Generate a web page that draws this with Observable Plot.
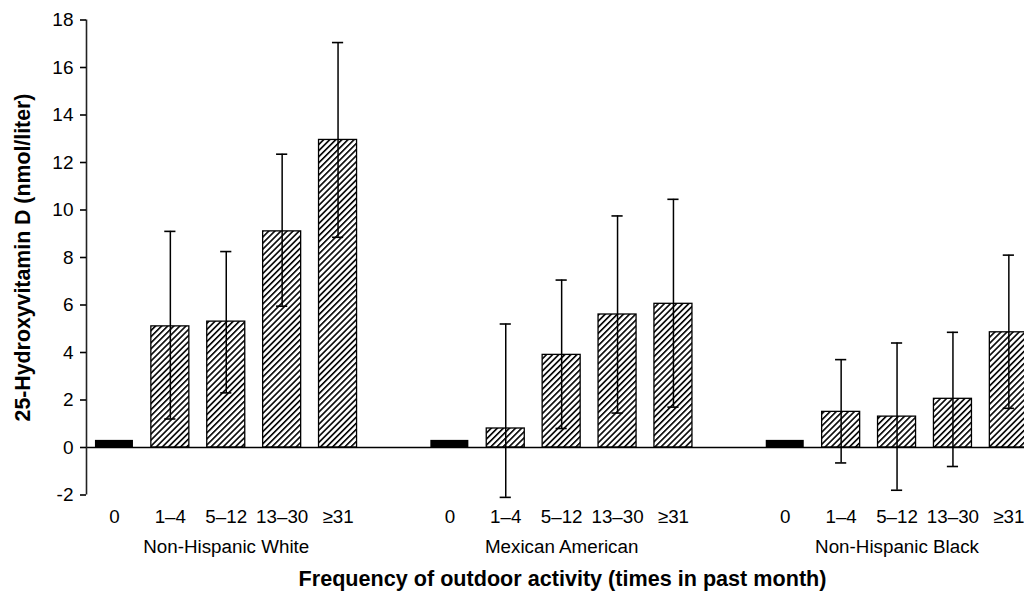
<!DOCTYPE html>
<html>
<head>
<meta charset="utf-8">
<script src="https://cdn.jsdelivr.net/npm/d3@7"></script>
<script src="https://cdn.jsdelivr.net/npm/@observablehq/plot@0.6"></script>
<style>
  html, body { margin: 0; padding: 0; background: #fff; overflow: hidden; }
</style>
</head>
<body>
<div id="chart"></div>
<script>
// ---- data ----
const groups = ["Non-Hispanic White", "Mexican American", "Non-Hispanic Black"];
const categories = ["0", "1–4", "5–12", "13–30", "≥31"];
const means = [
  [0.3, 5.1, 5.3, 9.1, 12.95],
  [0.3, 0.8, 3.9, 5.6, 6.05],
  [0.3, 1.5, 1.3, 2.05, 4.85]
];
const upper = [
  [null, 9.1, 8.25, 12.35, 17.05],
  [null, 5.2, 7.05, 9.75, 10.45],
  [null, 3.7, 4.4, 4.85, 8.1]
];
const lower = [
  [null, 1.2, 2.3, 5.95, 8.85],
  [null, -2.1, 0.8, 1.45, 1.7],
  [null, -0.65, -1.8, -0.8, 1.65]
];
const yTicks = [-2, 0, 2, 4, 6, 8, 10, 12, 14, 16, 18];
const yLabel = "25-Hydroxyvitamin D (nmol/liter)";
const xLabel = "Frequency of outdoor activity (times in past month)";

// ---- build table ----
const slotsPerGroup = categories.length + 1;
const rows = [];
groups.forEach((g, gi) => {
  categories.forEach((c, ci) => {
    rows.push({
      group: g, category: c, ci,
      slot: gi * slotsPerGroup + ci,
      mean: means[gi][ci], hi: upper[gi][ci], lo: lower[gi][ci]
    });
  });
});
const groupRows = groups.map((g, gi) => ({group: g, slot: gi * slotsPerGroup + (categories.length - 1) / 2}));
const errRows = rows.filter(d => d.hi != null);
const halfBar = 0.34, halfCap = 0.1;
const xDomain = [-0.5, 16.28];

const font = "'Liberation Sans', Arial, Helvetica, sans-serif";

const chart = Plot.plot({
  width: 1024,
  height: 591,
  marginLeft: 86,
  marginRight: 0,
  marginTop: 19.5,
  marginBottom: 96.5,
  style: {fontFamily: font, fontSize: "18.8px", color: "black", background: "white"},
  x: {type: "linear", domain: xDomain, axis: null},
  y: {domain: [-2, 18], axis: null},
  marks: [
    // hatched bars
    Plot.rect(rows.filter(d => d.ci > 0), {
      x1: d => d.slot - halfBar, x2: d => d.slot + halfBar,
      y1: 0, y2: "mean",
      fill: "url(#hatch)", stroke: "black", strokeWidth: 1.3, clip: true
    }),
    // solid bars for 0
    Plot.rect(rows.filter(d => d.ci === 0), {
      x1: d => d.slot - halfBar, x2: d => d.slot + halfBar,
      y1: 0, y2: "mean", fill: "black", clip: true
    }),
    // zero line
    Plot.ruleY([0], {stroke: "black", strokeWidth: 1.6}),
    // y axis line
    Plot.ruleX([xDomain[0]], {y1: yTicks[0], y2: yTicks[yTicks.length - 1], stroke: "#222", strokeWidth: 1.6}),
    Plot.axisY({ticks: yTicks, tickSize: 6, tickPadding: 7, tickFormat: d => String(d), label: null, strokeWidth: 1.6, fontSize: 19}),
    // error bars
    Plot.ruleX(errRows, {x: "slot", y1: "lo", y2: "hi", stroke: "black", strokeWidth: 1.5}),
    Plot.ruleY(errRows, {y: "hi", x1: d => d.slot - halfCap, x2: d => d.slot + halfCap, stroke: "black", strokeWidth: 1.6}),
    Plot.ruleY(errRows, {y: "lo", x1: d => d.slot - halfCap, x2: d => d.slot + halfCap, stroke: "black", strokeWidth: 1.6}),
    // category labels
    Plot.text(rows, {x: "slot", text: "category", frameAnchor: "bottom", dy: 22, lineAnchor: "middle", fontSize: 18.8, fill: "black"}),
    // group labels
    Plot.text(groupRows, {x: "slot", text: "group", frameAnchor: "bottom", dy: 52, lineAnchor: "middle", fontSize: 18.8, fill: "black"}),
    // axis titles
    Plot.text([xLabel], {frameAnchor: "bottom", textAnchor: "middle", dx: 7, dy: 84.5, lineAnchor: "middle", fontSize: 21.6, fontWeight: "bold", fill: "black"}),
    Plot.text([yLabel], {frameAnchor: "left", textAnchor: "middle", rotate: -90, dx: -63, dy: 0, lineAnchor: "middle", fontSize: 21.3, fontWeight: "bold", fill: "black"})
  ]
});

// hatch pattern definition
const ns = "http://www.w3.org/2000/svg";
const defs = document.createElementNS(ns, "defs");
defs.innerHTML = `
  <pattern id="hatch" patternUnits="userSpaceOnUse" width="4.3" height="4.3" patternTransform="rotate(45)">
    <rect width="4.3" height="4.3" fill="white"></rect>
    <line x1="0.8" y1="0" x2="0.8" y2="4.3" stroke="black" stroke-width="1.6"></line>
  </pattern>`;
chart.insertBefore(defs, chart.firstChild);

document.getElementById("chart").appendChild(chart);
</script>
</body>
</html>
